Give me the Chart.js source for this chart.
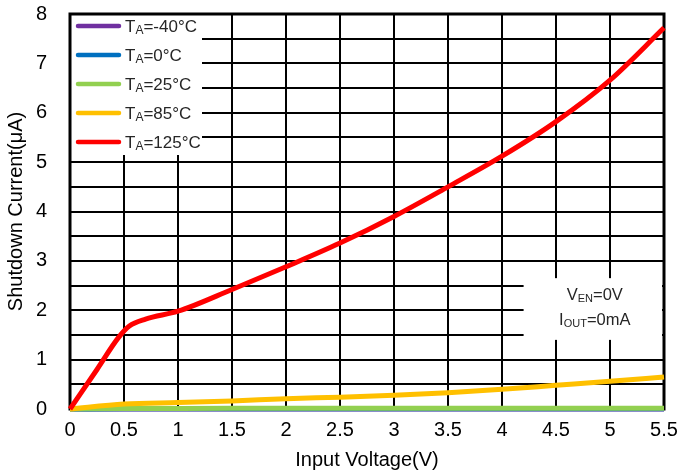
<!DOCTYPE html>
<html>
<head>
<meta charset="utf-8">
<script src="https://cdn.jsdelivr.net/npm/chart.js@4/dist/chart.umd.min.js"></script>
<style>
html,body{margin:0;padding:0;background:#fff;}
#wrap{width:682px;height:472px;position:relative;}
</style>
</head>
<body>
<div id="wrap"><canvas id="c" width="682" height="472"></canvas></div>
<script>
// Data
const seriesNames = ["-40°C", "0°C", "25°C", "85°C", "125°C"];
const seriesColors = ["#7030A0", "#0070C0", "#92D050", "#FFC000", "#FF0000"];

const xM40 = [0, 0.5, 1, 1.5, 2, 2.5, 3, 3.5, 4, 4.5, 5, 5.5];
const yM40 = [0, 0, 0, 0, 0, 0, 0, 0, 0, 0, 0, 0];
const x0 = [0, 0.5, 1, 1.5, 2, 2.5, 3, 3.5, 4, 4.5, 5, 5.5];
const y0 = [0, 0.003, 0.004, 0.004, 0.005, 0.005, 0.005, 0.006, 0.006, 0.006, 0.007, 0.007];
const x25 = [0, 0.5, 1, 1.5, 2, 2.5, 3, 3.5, 4, 4.5, 5, 5.5];
const y25 = [0, 0.01, 0.012, 0.013, 0.013, 0.014, 0.014, 0.015, 0.015, 0.016, 0.016, 0.017];
const x85 = [0, 0.5, 1, 1.5, 2, 2.5, 3, 3.5, 4, 4.5, 5, 5.5];
const y85 = [0, 0.1, 0.13, 0.16, 0.21, 0.24, 0.28, 0.33, 0.4, 0.48, 0.56, 0.65];
const x125 = [0, 0.25, 0.45, 0.55, 0.7, 1, 1.5, 2, 2.5, 3, 3.5, 4, 4.5, 5, 5.5];
const y125 = [0, 0.8, 1.45, 1.68, 1.82, 1.98, 2.42, 2.88, 3.36, 3.9, 4.5, 5.12, 5.82, 6.66, 7.72];

const xTicks = [0, 0.5, 1, 1.5, 2, 2.5, 3, 3.5, 4, 4.5, 5, 5.5];
const yTickLabels = [0, 1, 2, 3, 4, 5, 6, 7, 8];

const xs = [xM40, x0, x25, x85, x125];
const ys = [yM40, y0, y25, y85, y125];

const datasets = seriesNames.map((n, i) => ({
  label: "TA=" + n,
  data: xs[i].map((x, k) => ({x: x, y: ys[i][k]})),
  borderColor: seriesColors[i],
  backgroundColor: seriesColors[i],
  borderWidth: 5,
  pointRadius: 0,
  cubicInterpolationMode: 'monotone',
  clip: false,
  order: seriesNames.length - 1 - i,
  borderCapStyle: 'butt'
}));

const FONT = "'Liberation Sans', Arial, sans-serif";

function drawSubText(ctx, x, y, parts, size, align) {
  const subSize = Math.round(size * 0.68);
  let total = 0;
  parts.forEach(p => {
    ctx.font = (p[1] ? subSize : size) + "px " + FONT;
    total += ctx.measureText(p[0]).width;
  });
  let cx = align === 'center' ? x - total / 2 : x;
  ctx.textBaseline = 'alphabetic';
  ctx.textAlign = 'left';
  parts.forEach(p => {
    ctx.font = (p[1] ? subSize : size) + "px " + FONT;
    ctx.fillText(p[0], cx, p[1] ? y + 2 : y);
    cx += ctx.measureText(p[0]).width;
  });
}

function zeroPad(s) { s.paddingTop = 0; s.paddingBottom = 0; s.paddingLeft = 0; s.paddingRight = 0; }

const overlayPlugin = {
  id: 'overlay',
  beforeDatasetsDraw(chart) {
    const ctx = chart.ctx;
    const a = chart.chartArea;
    const xs_ = chart.scales.x, ys_ = chart.scales.y;
    ctx.save();
    ctx.fillStyle = '#fff';
    ctx.fillRect(a.left, a.top, 132, 141);
    const bx = xs_.getPixelForValue(4.2), by = ys_.getPixelForValue(2.65);
    ctx.fillRect(bx, by, a.right - bx - 2, ys_.getPixelForValue(1.4) - by);
    ctx.strokeStyle = '#000';
    ctx.lineWidth = 3;
    ctx.strokeRect(a.left, a.top, a.right - a.left, a.bottom - a.top);
    for (let i = 0; i < seriesNames.length; i++) {
      const yy = a.top + 12 + i * 29;
      ctx.strokeStyle = seriesColors[i];
      ctx.lineWidth = 4.5;
      ctx.lineCap = 'round';
      ctx.beginPath();
      ctx.moveTo(a.left + 8, yy);
      ctx.lineTo(a.left + 49, yy);
      ctx.stroke();
      ctx.fillStyle = '#262626';
      drawSubText(ctx, a.left + 55, yy + 6, [["T", false], ["A", true], ["=" + seriesNames[i], false]], 17, 'left');
    }
    const cx = (bx + a.right) / 2 + 1;
    ctx.fillStyle = '#262626';
    drawSubText(ctx, cx, ys_.getPixelForValue(2.25) + 2, [["V", false], ["EN", true], ["=0V", false]], 16.5, 'center');
    drawSubText(ctx, cx, ys_.getPixelForValue(1.75) + 2, [["I", false], ["OUT", true], ["=0mA", false]], 16.5, 'center');
    ctx.restore();
  }
};

new Chart(document.getElementById('c'), {
  type: 'line',
  data: { datasets: datasets },
  plugins: [overlayPlugin],
  options: {
    responsive: false,
    animation: false,
    events: [],
    layout: { padding: { top: 14, right: 18, left: 4, bottom: 0 } },
    plugins: { legend: { display: false }, tooltip: { enabled: false } },
    scales: {
      x: {
        type: 'linear', min: 0, max: 5.5,
        afterBuildTicks(s) { s.ticks = xTicks.map(v => ({value: v})); },
        afterFit(s) { s.height = 63; zeroPad(s); },
        ticks: { color: '#000', font: { family: FONT, size: 20 }, padding: 9, autoSkip: false, maxRotation: 0,
          callback: v => String(v) },
        grid: { color: '#000', lineWidth: 2, drawTicks: false },
        border: { display: false },
        title: { display: true, text: 'Input Voltage(V)', color: '#000', font: { family: FONT, size: 20 }, padding: { top: 0, bottom: 0 } }
      },
      y: {
        type: 'linear', min: 0, max: 8,
        ticks: { stepSize: 0.5, maxTicksLimit: 30, autoSkip: false, color: '#000', font: { family: FONT, size: 20 }, padding: 23,
          callback: v => (yTickLabels.includes(v) ? String(v) : '') },
        afterFit(s) { s.width = 66; zeroPad(s); },
        grid: { color: '#000', lineWidth: 2, drawTicks: false },
        border: { display: false },
        title: { display: true, text: 'Shutdown Current(μA)', color: '#000', font: { family: FONT, size: 20 }, padding: { top: 0, bottom: 0 } }
      }
    }
  }
});
</script>
</body>
</html>
